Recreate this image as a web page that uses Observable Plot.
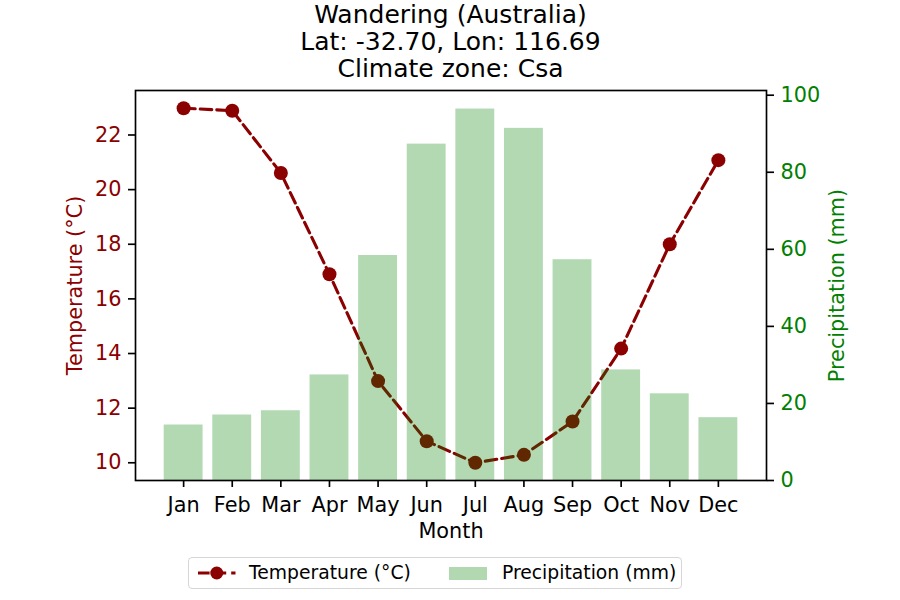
<!DOCTYPE html>
<html><head><meta charset="utf-8">
<script src="https://cdn.jsdelivr.net/npm/d3@7"></script>
<script src="https://cdn.jsdelivr.net/npm/@observablehq/plot@0.6"></script>
<style>
body{margin:0;background:#fff;font-family:"DejaVu Sans",sans-serif;}
#wrap{position:relative;width:900px;height:600px;overflow:hidden;}
#wrap svg.plot{position:absolute;left:0;top:0;}
.title{position:absolute;left:0;width:901px;text-align:center;font-size:25px;line-height:27.4px;top:0.5px;color:#000;}
.legend{position:absolute;left:188px;top:557px;width:494px;height:32px;border:1.3px solid #d6d6d6;border-radius:4px;box-sizing:border-box;font-size:18.75px;color:#000;}
.legend .item{position:absolute;top:0;height:30px;line-height:30px;}
</style>
</head><body>
<div id="wrap">
  <div class="title" id="title"></div>
  <div class="legend">
    <svg style="position:absolute;left:8px;top:6px" width="40" height="18"><line x1="1" y1="9" x2="38.5" y2="9" stroke="#8b0000" stroke-width="3.1" stroke-dasharray="11.6,5"/><circle cx="19.75" cy="9" r="6.5" fill="#8b0000"/></svg>
    <div class="item" style="left:60px" id="leg1"></div>
    <div style="position:absolute;left:260px;top:8.5px;width:37.5px;height:13px;background:#b2d8b2"></div>
    <div class="item" style="left:313px" id="leg2"></div>
  </div>
</div>
<script>
const titleLines = ["Wandering (Australia)", "Lat: -32.70, Lon: 116.69", "Climate zone: Csa"];
const months = ["Jan","Feb","Mar","Apr","May","Jun","Jul","Aug","Sep","Oct","Nov","Dec"];
const temperature = [22.98, 22.89, 20.61, 16.90, 12.99, 10.79, 10.00, 10.29, 11.51, 14.18, 18.00, 21.08];
const precipitation = [14.4, 17.0, 18.1, 27.4, 58.4, 87.3, 96.4, 91.4, 57.3, 28.7, 22.5, 16.3];
const tempTicks = [10, 12, 14, 16, 18, 20, 22];
const precipTicks = [0, 20, 40, 60, 80, 100];
const tempLabel = "Temperature (°C)";
const precipLabel = "Precipitation (mm)";
const xLabel = "Month";

const data = months.map((m, i) => ({month: m, temp: temperature[i], precip: precipitation[i]}));
const tMin = d3.min(temperature), tMax = d3.max(temperature), tPad = (tMax - tMin) * 0.05;
const pMax = d3.max(precipitation) * 1.05;

document.getElementById("title").innerHTML = titleLines.map(t => `<div>${t}</div>`).join("");
document.getElementById("leg1").textContent = tempLabel;
document.getElementById("leg2").textContent = precipLabel;

const common = {
  width: 900, height: 600,
  marginLeft: 135, marginRight: 134, marginTop: 90, marginBottom: 120,
  x: {type: "band", domain: months, paddingInner: 0.2, paddingOuter: 0.59, round: false},
  style: {fontFamily: "DejaVu Sans, sans-serif", fontSize: "20.8px", background: "transparent", overflow: "visible", color: "#000"}
};

const p1 = Plot.plot({
  ...common,
  y: {domain: [tMin - tPad, tMax + tPad]},
  marks: [
    Plot.line(data, {x: "month", y: "temp", stroke: "#8b0000", strokeWidth: 3.1, strokeDasharray: "11.6,5"}),
    Plot.dot(data, {x: "month", y: "temp", r: 7, fill: "#8b0000", stroke: "none"}),
    Plot.axisX({tickSize: 7, tickPadding: 10, strokeWidth: 1.67, label: null, stroke: "#000", fill: "#000"}),
    Plot.axisY(tempTicks, {anchor: "left", tickSize: 7, tickPadding: 7, strokeWidth: 1.67, label: null, stroke: "#000", fill: "#8b0000"}),
    Plot.text([xLabel], {frameAnchor: "bottom", lineAnchor: "middle", dy: 51, text: d => d, fill: "#000"}),
    Plot.text([tempLabel], {frameAnchor: "left", dx: -60, rotate: -90, textAnchor: "middle", text: d => d, fill: "#8b0000"})
  ]
});
p1.classList.add("plot");

const p2 = Plot.plot({
  ...common,
  x: {...common.x, axis: null},
  y: {domain: [0, pMax]},
  marks: [
    Plot.barY(data, {x: "month", y: "precip", fill: "#008000", fillOpacity: 0.3}),
    Plot.axisY(precipTicks, {anchor: "right", tickSize: 7, tickPadding: 7, strokeWidth: 1.67, label: null, stroke: "#000", fill: "#008000"}),
    Plot.frame({stroke: "#000", strokeWidth: 1.67}),
    Plot.text([precipLabel], {frameAnchor: "right", dx: 71, rotate: -90, textAnchor: "middle", text: d => d, fill: "#008000"})
  ]
});
p2.classList.add("plot");

const wrap = document.getElementById("wrap");
wrap.insertBefore(p2, wrap.firstChild);
wrap.insertBefore(p1, wrap.firstChild);
</script>
</body></html>
